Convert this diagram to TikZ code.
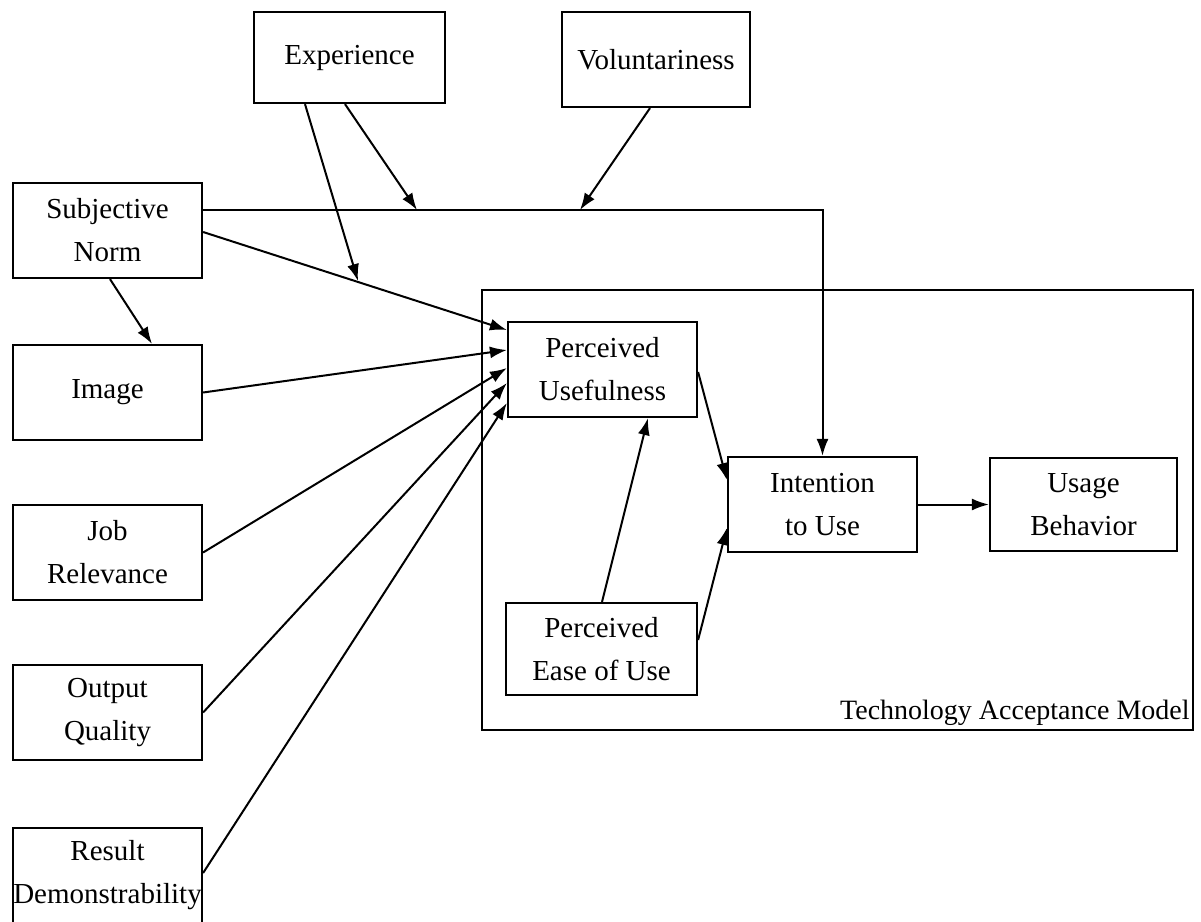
\documentclass[tikz,border=0pt]{standalone}
\usepackage{fontspec}
\setmainfont{Liberation Serif}
\usetikzlibrary{arrows.meta,calc}
\tikzset{
  box/.style={draw, line width=1.1pt, inner sep=0pt, align=center,
    font=\fontsize{14.5}{21.5}\selectfont},
  bw/.style={minimum width=94.5pt, minimum height=47.5pt},
  link/.style={line width=1pt},
  arr/.style={link, -{Latex[length=8.5pt,width=6pt]}},
  caption/.style={inner sep=0pt, font=\fontsize{14}{20}\selectfont}
}
\begin{document}
\begin{tikzpicture}[x=0.5pt,y=-0.5pt]
\useasboundingbox (0,0) rectangle (1201,922);
\fill[white] (0,0) rectangle (1201,922);

% Technology Acceptance Model frame
\node[draw, line width=1.1pt, minimum width=355.5pt, minimum height=220pt, inner sep=0pt] (tam) at (837.5,510) {};
\node[caption, anchor=base east] (tamlabel) at (1190,719) {Technology Acceptance Model};

% nodes
\node[box, minimum width=95.5pt, minimum height=45.5pt] (exp) at (349.5,57.5) {Experience};
\node[box, minimum width=94pt, minimum height=47.5pt] (vol) at (656,59.5) {Voluntariness};
\node[box, bw] (sn) at (107.5,230.5) {Subjective\\Norm};
\node[box, bw] (img) at (107.5,392.5) {Image};
\node[box, bw] (jr) at (107.5,552.5) {Job\\Relevance};
\node[box, bw] (oq) at (107.5,712.5) {Output\\Quality};
\node[box, bw] (rd) at (107.5,875.5) {Result\\Demonstrability};
\node[box, bw] (pu) at (602.5,369.5) {Perceived\\Usefulness};
\node[box, bw] (iu) at (822.5,504.5) {Intention\\to Use};
\node[box, minimum width=93.5pt, minimum height=46.5pt] (ub) at (1083.5,504.5) {Usage\\Behavior};
\node[box, minimum width=95.5pt, minimum height=46pt] (peou) at (601.5,649) {Perceived\\Ease of Use};

% moderation points on paths
\coordinate (m1) at (417,210);
\coordinate (m2) at (580,210);
\coordinate (m3) at (358,281);

% Subjective norm to intention
\draw[arr] ($(sn.east)+(0,-20.5)$) -| (iu.north);
% into perceived usefulness
\draw[arr] ($(sn.east)+(0,1.5)$) -- ($(pu.west)+(0,-39.5)$);
\draw[arr] (img.east) -- ($(pu.west)+(0,-19.5)$);
\draw[arr] (jr.east) -- ($(pu.west)+(0,-1.5)$);
\draw[arr] (oq.east) -- ($(pu.west)+(0,13.5)$);
\draw[arr] ($(rd.east)+(0,-2.5)$) -- ($(pu.west)+(0,33.5)$);
% subjective norm to image
\draw[arr] ($(sn.south)+(2.5,0)$) -- ($(img.north)+(44.5,0)$);
% moderators
\draw[arr] ($(exp.south)+(-44.5,0)$) -- (m3);
\draw[arr] ($(exp.south)+(-4.5,0)$) -- (m1);
\draw[arr] ($(vol.south)+(-6,0)$) -- (m2);
% TAM core
\draw[arr] ($(pu.east)+(0,2.5)$) -- ($(iu.west)+(0,-24.5)$);
\draw[arr] ($(peou.north)+(0.5,0)$) -- ($(pu.south)+(45.5,0)$);
\draw[arr] ($(peou.east)+(0,-9)$) -- ($(iu.west)+(0,23.5)$);
\draw[arr] (iu.east) -- (ub.west);
\end{tikzpicture}
\end{document}
